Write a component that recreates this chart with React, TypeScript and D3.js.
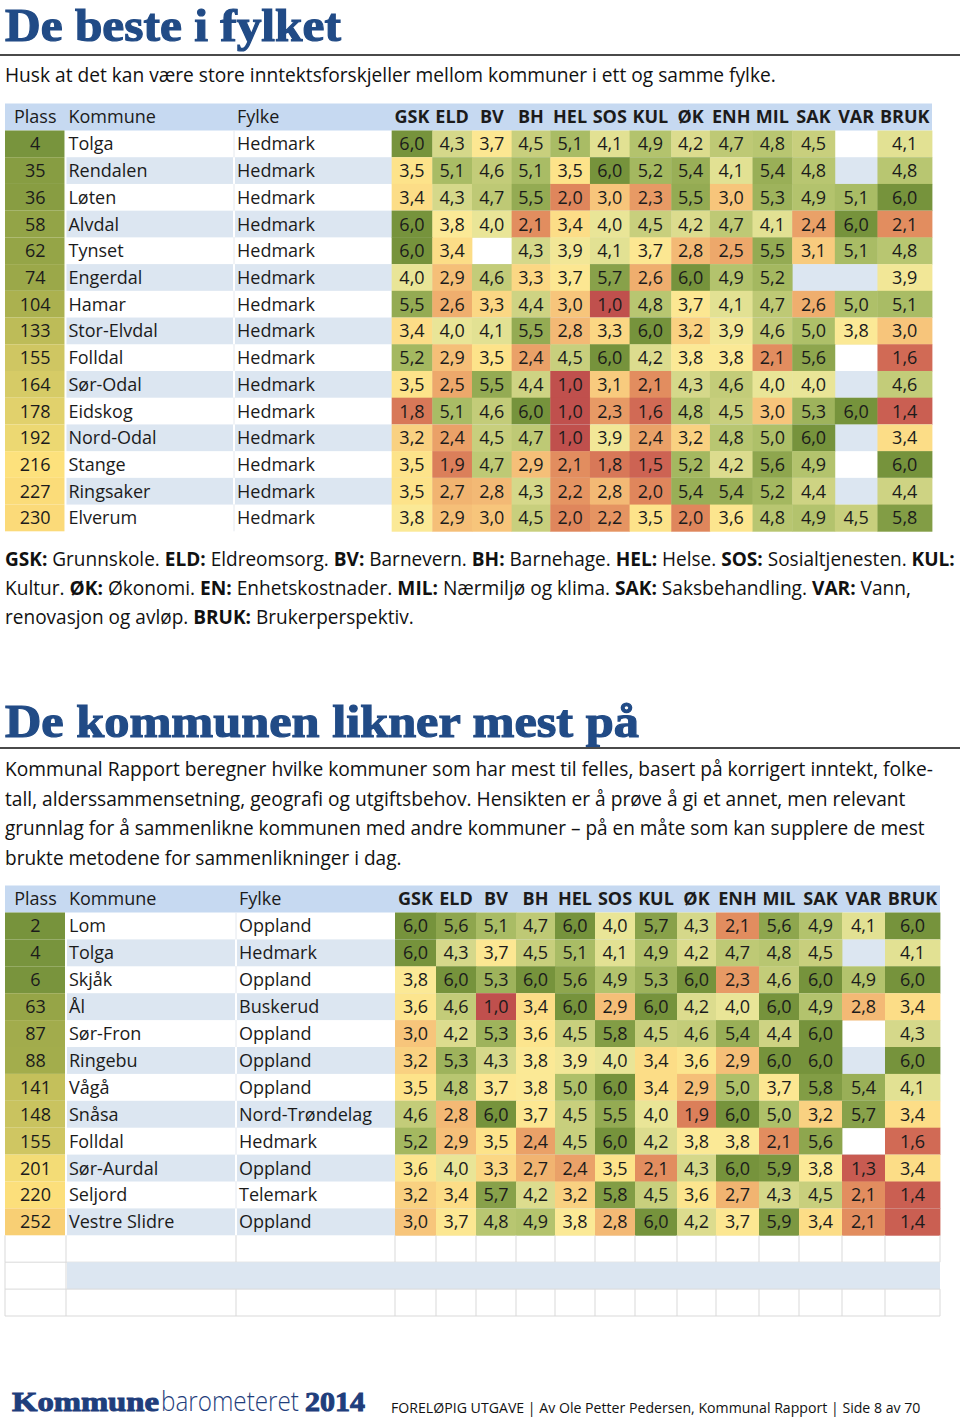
import React, { useLayoutEffect, useRef, useState } from "react";
import * as d3 from "d3";

// ---------- data ----------
const columns = ["GSK", "ELD", "BV", "BH", "HEL", "SOS", "KUL", "ØK", "ENH", "MIL", "SAK", "VAR", "BRUK"];

const places1 = [4, 35, 36, 58, 62, 74, 104, 133, 155, 164, 178, 192, 216, 227, 230];
const municipalities1 = ["Tolga", "Rendalen", "Løten", "Alvdal", "Tynset", "Engerdal", "Hamar", "Stor-Elvdal", "Folldal", "Sør-Odal", "Eidskog", "Nord-Odal", "Stange", "Ringsaker", "Elverum"];
const counties1 = ["Hedmark", "Hedmark", "Hedmark", "Hedmark", "Hedmark", "Hedmark", "Hedmark", "Hedmark", "Hedmark", "Hedmark", "Hedmark", "Hedmark", "Hedmark", "Hedmark", "Hedmark"];
const scores1: (number | null)[][] = [
  [6.0, 4.3, 3.7, 4.5, 5.1, 4.1, 4.9, 4.2, 4.7, 4.8, 4.5, null, 4.1],
  [3.5, 5.1, 4.6, 5.1, 3.5, 6.0, 5.2, 5.4, 4.1, 5.4, 4.8, null, 4.8],
  [3.4, 4.3, 4.7, 5.5, 2.0, 3.0, 2.3, 5.5, 3.0, 5.3, 4.9, 5.1, 6.0],
  [6.0, 3.8, 4.0, 2.1, 3.4, 4.0, 4.5, 4.2, 4.7, 4.1, 2.4, 6.0, 2.1],
  [6.0, 3.4, null, 4.3, 3.9, 4.1, 3.7, 2.8, 2.5, 5.5, 3.1, 5.1, 4.8],
  [4.0, 2.9, 4.6, 3.3, 3.7, 5.7, 2.6, 6.0, 4.9, 5.2, null, null, 3.9],
  [5.5, 2.6, 3.3, 4.4, 3.0, 1.0, 4.8, 3.7, 4.1, 4.7, 2.6, 5.0, 5.1],
  [3.4, 4.0, 4.1, 5.5, 2.8, 3.3, 6.0, 3.2, 3.9, 4.6, 5.0, 3.8, 3.0],
  [5.2, 2.9, 3.5, 2.4, 4.5, 6.0, 4.2, 3.8, 3.8, 2.1, 5.6, null, 1.6],
  [3.5, 2.5, 5.5, 4.4, 1.0, 3.1, 2.1, 4.3, 4.6, 4.0, 4.0, null, 4.6],
  [1.8, 5.1, 4.6, 6.0, 1.0, 2.3, 1.6, 4.8, 4.5, 3.0, 5.3, 6.0, 1.4],
  [3.2, 2.4, 4.5, 4.7, 1.0, 3.9, 2.4, 3.2, 4.8, 5.0, 6.0, null, 3.4],
  [3.5, 1.9, 4.7, 2.9, 2.1, 1.8, 1.5, 5.2, 4.2, 5.6, 4.9, null, 6.0],
  [3.5, 2.7, 2.8, 4.3, 2.2, 2.8, 2.0, 5.4, 5.4, 5.2, 4.4, null, 4.4],
  [3.8, 2.9, 3.0, 4.5, 2.0, 2.2, 3.5, 2.0, 3.6, 4.8, 4.9, 4.5, 5.8],
];

const places2 = [2, 4, 6, 63, 87, 88, 141, 148, 155, 201, 220, 252];
const municipalities2 = ["Lom", "Tolga", "Skjåk", "Ål", "Sør-Fron", "Ringebu", "Vågå", "Snåsa", "Folldal", "Sør-Aurdal", "Seljord", "Vestre Slidre"];
const counties2 = ["Oppland", "Hedmark", "Oppland", "Buskerud", "Oppland", "Oppland", "Oppland", "Nord-Trøndelag", "Hedmark", "Oppland", "Telemark", "Oppland"];
const scores2: (number | null)[][] = [
  [6.0, 5.6, 5.1, 4.7, 6.0, 4.0, 5.7, 4.3, 2.1, 5.6, 4.9, 4.1, 6.0],
  [6.0, 4.3, 3.7, 4.5, 5.1, 4.1, 4.9, 4.2, 4.7, 4.8, 4.5, null, 4.1],
  [3.8, 6.0, 5.3, 6.0, 5.6, 4.9, 5.3, 6.0, 2.3, 4.6, 6.0, 4.9, 6.0],
  [3.6, 4.6, 1.0, 3.4, 6.0, 2.9, 6.0, 4.2, 4.0, 6.0, 4.9, 2.8, 3.4],
  [3.0, 4.2, 5.3, 3.6, 4.5, 5.8, 4.5, 4.6, 5.4, 4.4, 6.0, null, 4.3],
  [3.2, 5.3, 4.3, 3.8, 3.9, 4.0, 3.4, 3.6, 2.9, 6.0, 6.0, null, 6.0],
  [3.5, 4.8, 3.7, 3.8, 5.0, 6.0, 3.4, 2.9, 5.0, 3.7, 5.8, 5.4, 4.1],
  [4.6, 2.8, 6.0, 3.7, 4.5, 5.5, 4.0, 1.9, 6.0, 5.0, 3.2, 5.7, 3.4],
  [5.2, 2.9, 3.5, 2.4, 4.5, 6.0, 4.2, 3.8, 3.8, 2.1, 5.6, null, 1.6],
  [3.6, 4.0, 3.3, 2.7, 2.4, 3.5, 2.1, 4.3, 6.0, 5.9, 3.8, 1.3, 3.4],
  [3.2, 3.4, 5.7, 4.2, 3.2, 5.8, 4.5, 3.6, 2.7, 4.3, 4.5, 2.1, 1.4],
  [3.0, 3.7, 4.8, 4.9, 3.8, 2.8, 6.0, 4.2, 3.7, 5.9, 3.4, 2.1, 1.4],
];

const legendLines: [string, boolean][][] = [
  [["GSK:", true], [" Grunnskole. ", false], ["ELD:", true], [" Eldreomsorg. ", false], ["BV:", true], [" Barnevern. ", false], ["BH:", true], [" Barnehage. ", false], ["HEL:", true], [" Helse. ", false], ["SOS:", true], [" Sosialtjenesten. ", false], ["KUL:", true]],
  [["Kultur. ", false], ["ØK:", true], [" Økonomi. ", false], ["EN:", true], [" Enhetskostnader. ", false], ["MIL:", true], [" Nærmiljø og klima. ", false], ["SAK:", true], [" Saksbehandling. ", false], ["VAR:", true], [" Vann,", false]],
  [["renovasjon og avløp. ", false], ["BRUK:", true], [" Brukerperspektiv.", false]],
];
const legendWidths = [950, 907, 409];

const paragraphLines = [
  "Kommunal Rapport beregner hvilke kommuner som har mest til felles, basert på korrigert inntekt, folke-",
  "tall, alderssammensetning, geografi og utgiftsbehov. Hensikten er å prøve å gi et annet, men relevant",
  "grunnlag for å sammenlikne kommunen med andre kommuner – på en måte som kan supplere de mest",
  "brukte metodene for sammenlikninger i dag.",
];
const paragraphWidths = [928, 901, 920, 397];

// ---------- styling ----------
const FONT = "'Open Sans', 'Noto Sans', sans-serif";
const TITLE_FONT = "'Liberation Serif', 'DejaVu Serif', serif";
const TITLE_COLOR = "#214b86";
const HEADER_BLUE = "#c6d9f1";
const STRIPE = "#dce6f1";
const TEXT = "#1b1b1b";
const EDGES = [5, 66, 236, 395, 436, 476, 516, 555, 595, 635, 677, 716, 759, 799, 842, 885, 940];

const valueColor = d3
  .scaleLinear<string>()
  .domain([1.0, 1.5, 2.0, 2.5, 3.0, 3.5, 3.8, 4.0, 4.3, 4.5, 5.0, 5.5, 6.0])
  .range(["#c0504d", "#cd6353", "#df865c", "#eda86b", "#f7c57b", "#fde38a", "#fbe996", "#e9e597", "#d5d88a", "#c8cf7d", "#aec069", "#94ab53", "#76933c"])
  .interpolate(d3.interpolateRgb)
  .clamp(true);

const rankColor = d3
  .scaleLinear<string>()
  .domain([1, 120, 214, 300, 428])
  .range(["#76933c", "#b3b652", "#fde27c", "#f2b86a", "#c0504d"])
  .interpolate(d3.interpolateRgb)
  .clamp(true);

const fmt = (v: number) => v.toFixed(1).replace(".", ",");

// Text that is horizontally scaled to an exact width (measured, then transformed)
function FitText({ x, y, width, children, ...rest }: any) {
  const ref = useRef<SVGTextElement>(null);
  const [s, setS] = useState(1);
  useLayoutEffect(() => {
    if (ref.current) {
      const w = ref.current.getComputedTextLength();
      if (w > 0) setS(width / w);
    }
  }, [width]);
  return (
    <text ref={ref} x={0} y={0} transform={`translate(${x},${y}) scale(${s},1)`} {...rest}>
      {children}
    </text>
  );
}

type TableProps = {
  top: number;
  headerH: number;
  rowH: number;
  right: number;
  fylkeOffset: number;
  places: number[];
  names: string[];
  counties: string[];
  scores: (number | null)[][];
  emptyRows: number;
};

function Table({ top, headerH, rowH, right, fylkeOffset, places, names, counties, scores, emptyRows }: TableProps) {
  const sx = d3.scaleLinear().domain([5, 940]).range([5, right]);
  const e = EDGES.map((v) => sx(v));
  const nRows = places.length + emptyRows;
  const y0 = top + headerH;
  const ry = d3.scaleLinear().domain([0, nRows]).range([y0, y0 + nRows * rowH]);
  const fs = 18;
  const rows = d3.range(nRows);

  return (
    <g>
      <rect x={5} y={top} width={right - 5} height={headerH} fill={HEADER_BLUE} />
      <text x={(e[0] + e[1]) / 2} y={top + headerH / 2} dy="0.36em" textAnchor="middle" fontFamily={FONT} fontSize={fs} fill={TEXT}>Plass</text>
      <text x={e[1] + 3} y={top + headerH / 2} dy="0.36em" fontFamily={FONT} fontSize={fs} fill={TEXT}>Kommune</text>
      <text x={e[2] + fylkeOffset} y={top + headerH / 2} dy="0.36em" fontFamily={FONT} fontSize={fs} fill={TEXT}>Fylke</text>
      {columns.map((c, j) => (
        <text key={c} x={(e[3 + j] + e[4 + j]) / 2} y={top + headerH / 2} dy="0.36em" textAnchor="middle" fontFamily={FONT} fontWeight={700} fontSize={fs} fill={TEXT}>{c}</text>
      ))}
      {rows.map((i) => {
        const yT = ry(i);
        const yB = ry(i + 1);
        const h = yB - yT;
        const cy = (yT + yB) / 2;
        const striped = i % 2 === 1;
        const isData = i < places.length;
        return (
          <g key={i}>
            {striped && <rect x={e[1] + 1} y={yT} width={right - e[1] - 1} height={h} fill={STRIPE} />}
            {striped && isData && <rect x={e[2] - 1} y={yT} width={2} height={h} fill="#ffffff" />}
            {!striped && isData && <line x1={e[2]} x2={e[2]} y1={yT} y2={yB} stroke="#e4e8ee" strokeWidth={1} />}
            {isData && <rect x={e[0]} y={yT} width={e[1] - e[0] - 1} height={h} fill={rankColor(places[i])} />}
            {isData &&
              scores[i].map((v, j) =>
                v == null ? null : (
                  <rect key={j} x={e[3 + j]} y={yT} width={e[4 + j] - e[3 + j] + 0.4} height={h + 0.4} fill={valueColor(v)} />
                )
              )}
            {!isData && (
              <g>
                {!striped && e.map((xx, k) => (
                  <line key={k} x1={xx} x2={xx} y1={yT} y2={yB} stroke="#d9d9d9" strokeWidth={1} />
                ))}
                {striped && <line x1={e[0]} x2={e[0]} y1={yT} y2={yB} stroke="#d9d9d9" />}
                {striped && <line x1={e[1]} x2={e[1]} y1={yT} y2={yB} stroke="#d9d9d9" />}
                <line x1={e[0]} x2={right} y1={yB} y2={yB} stroke="#d9d9d9" strokeWidth={1} />
              </g>
            )}
            {isData && (
              <g fontFamily={FONT} fontSize={fs} fill={TEXT}>
                <text x={(e[0] + e[1]) / 2} y={cy} dy="0.36em" textAnchor="middle">{places[i]}</text>
                <text x={e[1] + 3} y={cy} dy="0.36em">{names[i]}</text>
                <text x={e[2] + fylkeOffset} y={cy} dy="0.36em">{counties[i]}</text>
                {scores[i].map((v, j) =>
                  v == null ? null : (
                    <text key={j} x={(e[3 + j] + e[4 + j]) / 2} y={cy} dy="0.36em" textAnchor="middle">{fmt(v)}</text>
                  )
                )}
              </g>
            )}
          </g>
        );
      })}
    </g>
  );
}

export default function App() {
  return (
    <svg width={960} height={1418} viewBox="0 0 960 1418" style={{ position: "absolute", left: 0, top: 0, display: "block", background: "#fff" }}>
      <rect width={960} height={1418} fill="#fff" />
      {/* Title 1 */}
      <FitText x={5} y={41} width={336} fontFamily={TITLE_FONT} fontWeight={700} fontSize={47} fill={TITLE_COLOR} stroke={TITLE_COLOR} strokeWidth={1.2}>De beste i fylket</FitText>
      <line x1={0} x2={960} y1={55} y2={55} stroke="#4a4a4a" strokeWidth={2} />
      <FitText x={5} y={82} width={771} fontFamily={FONT} fontSize={20} fill="#111">Husk at det kan være store inntektsforskjeller mellom kommuner i ett og samme fylke.</FitText>

      <Table top={103.5} headerH={27} rowH={26.72} right={932} fylkeOffset={3} places={places1} names={municipalities1} counties={counties1} scores={scores1} emptyRows={0} />

      {legendLines.map((segs, k) => (
        <FitText key={k} x={5} y={566 + k * 29} width={legendWidths[k]} fontFamily={FONT} fontSize={20} fill="#111">
          {segs.map(([t, b], m) => (
            <tspan key={m} fontWeight={b ? 700 : 400}>{t}</tspan>
          ))}
        </FitText>
      ))}

      {/* Title 2 */}
      <FitText x={5} y={737} width={634} fontFamily={TITLE_FONT} fontWeight={700} fontSize={47} fill={TITLE_COLOR} stroke={TITLE_COLOR} strokeWidth={1.2}>De kommunen likner mest på</FitText>
      <line x1={0} x2={960} y1={748} y2={748} stroke="#4a4a4a" strokeWidth={2} />
      {paragraphLines.map((t, k) => (
        <FitText key={k} x={5} y={776 + k * 29.5} width={paragraphWidths[k]} fontFamily={FONT} fontSize={20} fill="#111">{t}</FitText>
      ))}

      <Table top={885.5} headerH={27} rowH={26.9} right={940} fylkeOffset={3} places={places2} names={municipalities2} counties={counties2} scores={scores2} emptyRows={3} />

      {/* Footer */}
      <FitText x={12} y={1411} width={147} fontFamily={TITLE_FONT} fontWeight={700} fontSize={28} fill="#1f3e7c" stroke="#1f3e7c" strokeWidth={1}>Kommune</FitText>
      <FitText x={161} y={1411} width={138} fontFamily={FONT} fontWeight={300} fontSize={27} fill="#1f3e7c">barometeret</FitText>
      <FitText x={305} y={1411} width={60} fontFamily={TITLE_FONT} fontWeight={700} fontSize={28} fill="#1f3e7c" stroke="#1f3e7c" strokeWidth={1}>2014</FitText>
      <FitText x={391} y={1413} width={530} fontFamily={FONT} fontSize={15} fill="#111">FORELØPIG UTGAVE | Av Ole Petter Pedersen, Kommunal Rapport | Side 8 av 70</FitText>
    </svg>
  );
}
